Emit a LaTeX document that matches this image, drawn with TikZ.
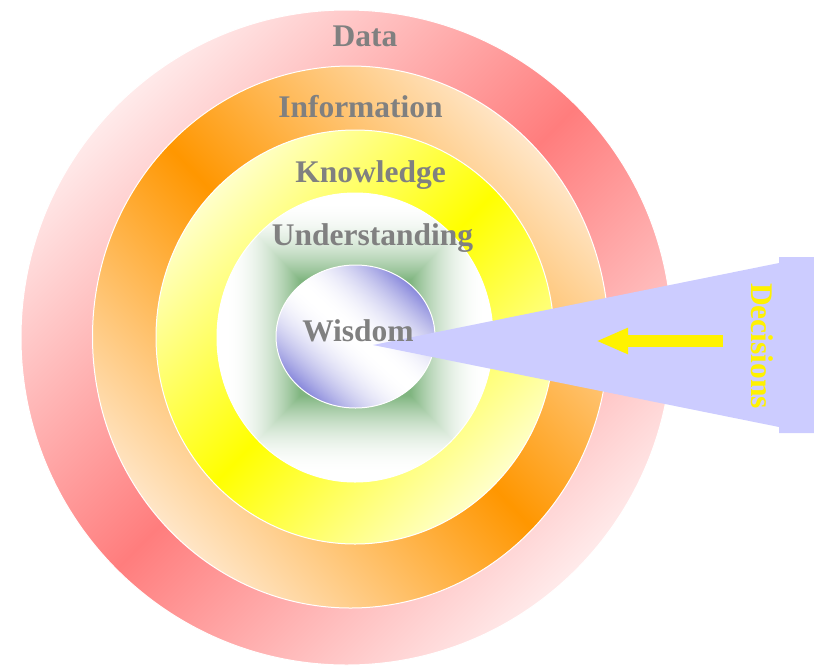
\documentclass[tikz,border=0pt]{standalone}
\usepackage{fontspec}
\setmainfont{Liberation Serif}
\usetikzlibrary{arrows.meta}
\definecolor{labelgray}{RGB}{128,128,128}
\definecolor{decisionblue}{RGB}{204,204,255}
% diagonal fills, x and y run from -50bp to 50bp, the ring's box is the middle half
\pgfdeclarefunctionalshading{datafill}{\pgfpoint{-50bp}{-50bp}}{\pgfpoint{50bp}{50bp}}{}{
  sub abs 42 div dup 1 gt {pop 1} if
  1 exch 0.51 mul 0.49 add dup
}
\pgfdeclarefunctionalshading{infofill}{\pgfpoint{-50bp}{-50bp}}{\pgfpoint{50bp}{50bp}}{}{
  add abs 42 div dup 1 gt {pop 1} if
  1 exch dup 0.37 mul 0.59 add exch 0.93 mul
}
\pgfdeclarefunctionalshading{knowfill}{\pgfpoint{-50bp}{-50bp}}{\pgfpoint{50bp}{50bp}}{}{
  sub abs 42 div dup 1 gt {pop 1} if
  1 exch 1 exch 0.94 mul
}
\pgfdeclarefunctionalshading{underfill}{\pgfpoint{-50bp}{-50bp}}{\pgfpoint{50bp}{50bp}}{}{
  abs exch abs 2 copy lt {exch} if pop 25 div
  0.4 sub 0.55 div dup 0 lt {pop 0} if dup 1 gt {pop 1} if
  1 exch sub dup mul
  dup 0.5 mul 1 exch sub exch dup 0.29 mul 1 exch sub exch 0.5 mul 1 exch sub
}
\pgfdeclarefunctionalshading{wisdomfill}{\pgfpoint{-50bp}{-50bp}}{\pgfpoint{50bp}{50bp}}{}{
  add abs 40 div dup 1 gt {pop 1} if dup mul
  dup 0.6 mul 1 exch sub dup 3 -1 roll 0.18 mul 1 exch sub
}
\tikzset{ring/.style = {draw = white, line width = 1}}
\tikzset{tag/.style = {text = labelgray, anchor = base, inner sep = 0,
    font = \fontsize{31.5}{36}\selectfont\bfseries}}

\begin{document}
\begin{tikzpicture}[x = 1pt, y = -1pt]
    \useasboundingbox (0, 0) rectangle (814, 665);

    \shadedraw [ring, shading = datafill]
      (346.5, 337.5) ellipse [x radius = 325.5, y radius = 327.5];
    \shadedraw [ring, shading = infofill]
      (350.5, 337) ellipse [x radius = 258, y radius = 271];
    \shadedraw [ring, shading = knowfill]
      (355, 337) ellipse [x radius = 199, y radius = 207];
    \shadedraw [ring, shading = underfill]
      (355, 337.5) ellipse [x radius = 138, y radius = 144.5];
    \shadedraw [ring, shading = wisdomfill]
      (355.5, 336.5) ellipse [x radius = 79.5, y radius = 71.5];

    \fill [decisionblue] (373, 345) -- (779, 263) -- (779, 257) -- (814, 257)
      -- (814, 433) -- (779, 433) -- (779, 427) -- cycle;

    \coordinate (push) at (723, 341);
    \coordinate (pull) at (596, 341);
    \draw [yellow, line width = 12, -{Triangle[length = 32, width = 24]}] (push) -- (pull);

    \node [tag] (data) at (365, 46) {Data};
    \node [tag] (info) at (360.5, 117) {Information};
    \node [tag] (know) at (370.5, 182) {Knowledge};
    \node [tag] (under) at (372.5, 245) {Understanding};
    \node [tag] (wisdom) at (358, 341) {Wisdom};
    \node [tag, text = yellow, anchor = center, rotate = -90] (decisions) at (762.5, 346) {Decisions};
  \end{tikzpicture}
\end{document}
